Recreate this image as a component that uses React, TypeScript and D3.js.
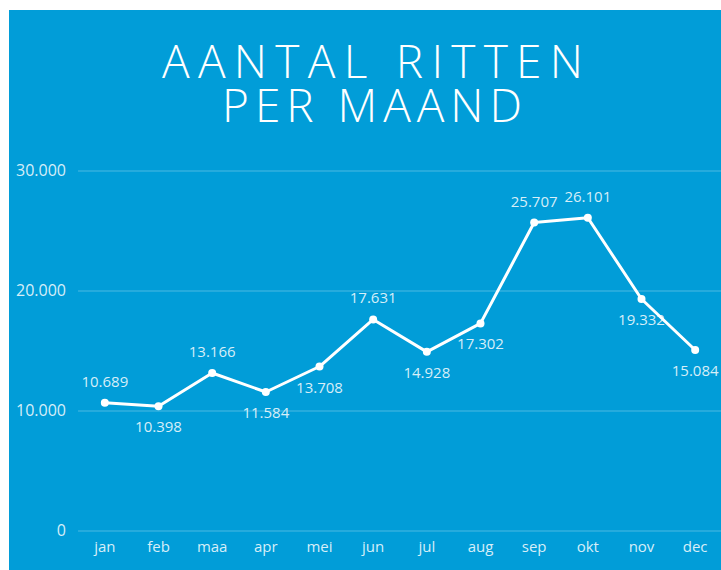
import React from "react";
import * as d3 from "d3";

const months = ["jan", "feb", "maa", "apr", "mei", "jun", "jul", "aug", "sep", "okt", "nov", "dec"];
const rides = [10689, 10398, 13166, 11584, 13708, 17631, 14928, 17302, 25707, 26101, 19332, 15084];
const labelAbove = [true, false, true, false, false, true, false, false, true, true, false, false];
const yTicks = [0, 10000, 20000, 30000];
const titleLines = ["AANTAL RITTEN", "PER MAAND"];

const W = 721;
const H = 570;
const FONT = "'Open Sans', 'DejaVu Sans', sans-serif";

const fmt = (v: number) => {
  const s = d3.format(",")(v);
  return s.replace(/,/g, ".");
};

export default function App() {
  const x = d3.scaleBand<string>().domain(months).range([78, 722]);
  const y = d3.scaleLinear().domain([0, 30000]).range([531, 171]);
  const cx = (m: string) => (x(m) ?? 0) + x.bandwidth() / 2;
  const line = d3
    .line<number>()
    .x((_, i) => cx(months[i]))
    .y((d) => y(d));

  return (
    <svg
      width={W}
      height={H}
      style={{ position: "absolute", left: 0, top: 0, display: "block" }}
      fontFamily={FONT}
    >
      <rect x={9} y={10} width={W - 9} height={H - 10} fill="#019dd8" />
      <text fill="#ffffff" fontSize={46} fontWeight={300} textAnchor="middle">
        <tspan x={372.5} y={78} textLength={421} lengthAdjust="spacing">
          {titleLines[0]}
        </tspan>
        <tspan x={372} y={122} textLength={300} lengthAdjust="spacing">
          {titleLines[1]}
        </tspan>
      </text>
      {yTicks.map((t) => (
        <g key={t}>
          <line x1={78} x2={W} y1={y(t)} y2={y(t)} stroke="rgba(255,255,255,0.3)" strokeWidth={1} />
          <text
            x={66}
            y={y(t) + 5}
            textAnchor="end"
            fontSize={16}
            fill="rgba(255,255,255,0.85)"
          >
            {fmt(t)}
          </text>
        </g>
      ))}
      {months.map((m) => (
        <text
          key={m}
          x={cx(m)}
          y={552}
          textAnchor="middle"
          fontSize={15}
          fill="rgba(255,255,255,0.85)"
        >
          {m}
        </text>
      ))}
      <path
        d={line(rides) ?? ""}
        fill="none"
        stroke="#ffffff"
        strokeWidth={3}
        strokeLinejoin="round"
      />
      {rides.map((v, i) => (
        <circle key={i} cx={cx(months[i])} cy={y(v)} r={4} fill="#ffffff" />
      ))}
      {rides.map((v, i) => (
        <text
          key={"l" + i}
          x={cx(months[i])}
          y={labelAbove[i] ? y(v) - 16 : y(v) + 26}
          textAnchor="middle"
          fontSize={15}
          fill="rgba(255,255,255,0.85)"
        >
          {fmt(v)}
        </text>
      ))}
    </svg>
  );
}
